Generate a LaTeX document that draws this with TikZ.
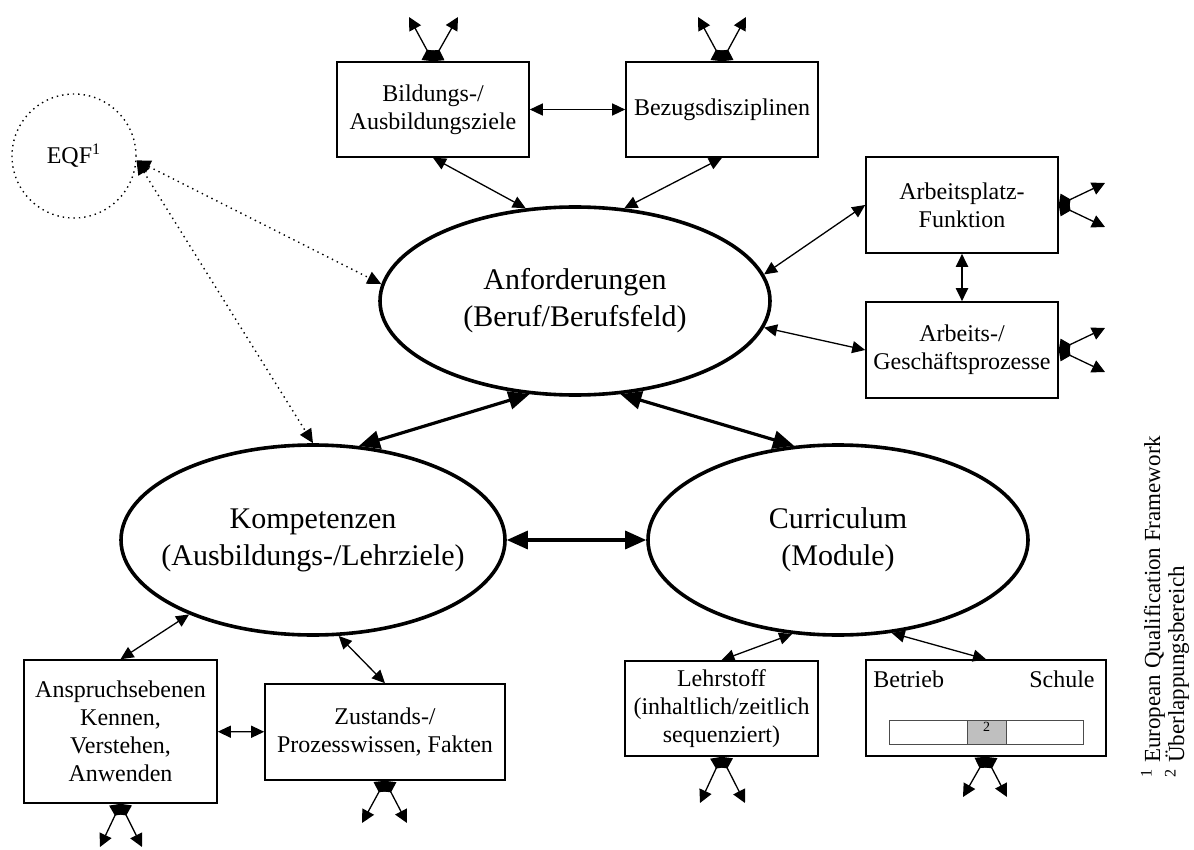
\documentclass[tikz,border=0pt]{standalone}
\usepackage{fontspec}
\setmainfont{Liberation Serif}
\usepackage{tikz}
\usetikzlibrary{arrows.meta,shapes.geometric}

\begin{document}
\begin{tikzpicture}[
  x=0.5pt,y=-0.5pt,
  font=\fontsize{12}{14}\selectfont,
  ell/.style={ellipse,draw,line width=1.8pt,inner xsep=-15pt,inner ysep=0pt,align=center,font=\fontsize{15}{18.5}\selectfont},
  box/.style={draw,line width=0.8pt,inner sep=2pt,align=center,minimum width=96pt,minimum height=47.5pt},
  fl/.style={{Triangle[length=6.5pt,width=6pt]}-{Triangle[length=6.5pt,width=6pt]},line width=0.65pt},
  flt/.style={{Triangle[length=10.5pt,width=9pt]}-{Triangle[length=10.5pt,width=9pt]},line width=1.6pt},
  fld/.style={{Triangle[length=7pt,width=6.5pt]}-{Triangle[length=7pt,width=6.5pt]},line width=0.7pt,dotted},
  fork/.style={{Diamond[length=6.5pt,width=9.5pt]}-{Triangle[length=6.5pt,width=6.5pt]},line width=0.65pt},
]
\useasboundingbox (0,0) rectangle (1194,850);
\node[ell,minimum width=195pt,minimum height=94pt] (anf) at (575,301) {Anforderungen\\(Beruf/Berufsfeld)};
\node[ell,minimum width=192pt,minimum height=95pt] (komp) at (313,540) {Kompetenzen\\(Ausbildungs-/Lehrziele)};
\node[ell,minimum width=190pt,minimum height=95pt] (curr) at (838,540) {Curriculum\\(Module)};
\node[circle,draw,dotted,line width=0.7pt,minimum size=62pt,inner sep=0pt] (eqf) at (74,156) {EQF\textsuperscript{1}};
\node[box] (bild) at (433,109.5) {Bildungs-/\\Ausbildungsziele};
\node[box] (bez) at (722,109.5) {Bezugsdisziplinen};
\node[box,minimum height=48pt] (afunk) at (962,205) {Arbeitsplatz-\\Funktion};
\node[box,minimum height=48pt] (aproz) at (962,350) {Arbeits-/\\Geschäftsprozesse};
\node[box,minimum width=96.5pt,minimum height=71.5pt] (ansp) at (120.5,731.5) {Anspruchsebenen\\Kennen,\\Verstehen,\\Anwenden};
\node[box,minimum width=120pt,minimum height=48pt] (zust) at (385,732) {Zustands-/\\Prozesswissen, Fakten};
\node[box,minimum width=96.5pt] (lehr) at (721.5,708.5) {Lehrstoff\\(inhaltlich/zeitlich\\sequenziert)};
\node[box,minimum width=120pt,minimum height=48pt] (betr) at (986,708) {};
\node[anchor=base west,inner sep=0pt] (btext) at (873,687) {Betrieb};
\node[anchor=base east,inner sep=0pt] (stext) at (1095,687) {Schule};
\node[draw=black!70,line width=0.5pt,minimum width=97pt,minimum height=12pt,inner sep=0pt] (bar) at (986,732) {};
\node[draw=black!70,fill=black!25,line width=0.5pt,minimum width=19.5pt,minimum height=12pt,inner sep=0pt] (ovl) at (986.5,732) {};
\node[font=\fontsize{7}{8}\selectfont,inner sep=0pt] (ovlnum) at (986.5,727) {2};
\node[rotate=90,anchor=west,inner sep=0pt,font=\fontsize{11.5}{13}\selectfont] (fn1) at (1153,778) {\textsuperscript{1} European Qualification Framework};
\node[rotate=90,anchor=west,inner sep=0pt,font=\fontsize{11.5}{13}\selectfont] (fn2) at (1177,778) {\textsuperscript{2} Überlappungsbereich};
% ends of the small forks
\coordinate (bildA) at (409,17);
\coordinate (bildB) at (458,17);
\coordinate (bezA) at (698,17);
\coordinate (bezB) at (746,17);
\coordinate (afunkA) at (1105,183);
\coordinate (afunkB) at (1105,227);
\coordinate (aprozA) at (1105,328);
\coordinate (aprozB) at (1105,372);
\coordinate (anspA) at (100,847);
\coordinate (anspB) at (142,847);
\coordinate (zustA) at (362,823);
\coordinate (zustB) at (407,823);
\coordinate (lehrA) at (700,803);
\coordinate (lehrB) at (745,803);
\coordinate (betrA) at (963,797);
\coordinate (betrB) at (1007,797);
\draw[fl] (bild) -- (bez);
\draw[fl] (bild.south) -- (anf.118);
\draw[fl] (bez.south) -- (anf.62);
\draw[fl] (afunk.west) -- (anf.8);
\draw[fl] (aproz.west) -- (anf.352);
\draw[fl,line width=1pt] (afunk) -- (aproz);
\draw[fld] (eqf.356) -- (anf.175);
\draw[fld] (eqf.356) -- (komp.north);
\draw[flt] (anf.244) -- (komp.64);
\draw[flt] (anf.296) -- (curr.115);
\draw[flt] (komp) -- (curr);
\draw[fl] (komp.211) -- (ansp.north);
\draw[fl] (komp.285) -- (zust.north);
\draw[fl] (ansp) -- (zust);
\draw[fl] (curr.244) -- (lehr.north);
\draw[fl] (curr.300) -- (betr.north);
\draw[fork] (bild.north) -- (bildA);
\draw[fork] (bild.north) -- (bildB);
\draw[fork] (bez.north) -- (bezA);
\draw[fork] (bez.north) -- (bezB);
\draw[fork] (afunk.east) -- (afunkA);
\draw[fork] (afunk.east) -- (afunkB);
\draw[fork] (aproz.east) -- (aprozA);
\draw[fork] (aproz.east) -- (aprozB);
\draw[fork] (ansp.south) -- (anspA);
\draw[fork] (ansp.south) -- (anspB);
\draw[fork] (zust.south) -- (zustA);
\draw[fork] (zust.south) -- (zustB);
\draw[fork] (lehr.south) -- (lehrA);
\draw[fork] (lehr.south) -- (lehrB);
\draw[fork] (betr.south) -- (betrA);
\draw[fork] (betr.south) -- (betrB);
\end{tikzpicture}
\end{document}
